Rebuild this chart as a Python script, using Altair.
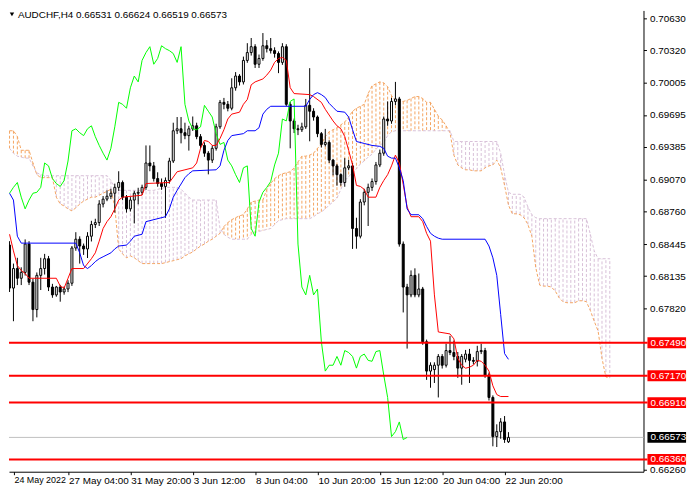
import json
import altair as alt
import pandas as pd

FONT = "Liberation Sans"
SYMBOL = "AUDCHF,H4"
PT = 100000.0  # prices below are in points (1e-5)

OPEN_PTS = [68435, 68019, 68208, 68114, 68171, 68445, 68076, 67811, 68142, 68208,
            68303, 68029, 67953, 68029, 67981, 68010, 68066, 68407, 68492, 68426,
            68398, 68521, 68634, 68653, 68833, 68880, 68908, 68937, 68994, 69041,
            68899, 68786, 68871, 68937, 68946, 68994, 69230, 69202, 69079, 69031,
            69003, 69060, 69249, 69542, 69561, 69523, 69495, 69561, 69590, 69485,
            69400, 69325, 69258, 69372, 69580, 69817, 69798, 69760, 69958, 70072,
            70015, 70223, 70299, 70356, 70186, 70242, 70365, 70337, 70318, 70290,
            70204, 70356, 69798, 69637, 69561, 69552, 69580, 69788, 69731, 69675,
            69514, 69410, 69429, 69258, 69202, 69117, 69041, 69183, 69202, 68596,
            68521, 68852, 68946, 68994, 69050, 69211, 69325, 69656, 69637, 69826,
            69850, 68445, 68029, 67953, 68142, 67953, 68010, 67499, 67215, 67230,
            67272, 67357, 67272, 67414, 67395, 67357, 67244, 67330, 67380, 67319,
            67310, 67404, 67414, 67177, 66960, 66581, 66629, 66723, 66531]
HIGH_PTS = [68473, 68256, 68312, 68220, 68490, 68473, 68110, 68170, 68312, 68350,
            68330, 68060, 68040, 68050, 68035, 68095, 68426, 68560, 68520, 68450,
            68560, 68670, 68690, 68870, 68910, 68965, 68980, 69030, 69150, 69060,
            68920, 68900, 68960, 68990, 69020, 69400, 69400, 69240, 69140, 69080,
            69090, 69280, 69620, 69675, 69675, 69620, 69590, 69680, 69620, 69510,
            69430, 69345, 69400, 69610, 69840, 69860, 69830, 70050, 70110, 70090,
            70260, 70390, 70440, 70380, 70280, 70488, 70420, 70440, 70350, 70310,
            70390, 70380, 69820, 69660, 69600, 69620, 69850, 70148, 69760, 69690,
            69530, 69560, 69450, 69270, 69220, 69130, 69277, 69260, 69230, 68700,
            68880, 68980, 69030, 69080, 69240, 69360, 69680, 69826, 69860, 70015,
            69870, 68470, 68060, 68190, 68210, 68160, 68030, 67520, 67300, 67300,
            67380, 67380, 67480, 67556, 67510, 67400, 67380, 67420, 67430, 67350,
            67460, 67480, 67440, 67200, 66980, 66700, 66760, 66780, 66624]
LOW_PTS = [67981, 67698, 68048, 68048, 68140, 68048, 67698, 67735, 68000, 68150,
           67990, 67925, 67935, 67887, 67955, 67980, 68040, 68380, 68256, 68340,
           68310, 68470, 68600, 68620, 68800, 68860, 68880, 68750, 68960, 68870,
           68750, 68760, 68645, 68830, 68920, 68970, 69150, 69050, 69000, 68970,
           68700, 69030, 69230, 69510, 69420, 69460, 69350, 69540, 69460, 69370,
           69290, 69120, 69230, 69350, 69560, 69750, 69730, 69740, 69930, 69980,
           69990, 70200, 70270, 70150, 70150, 70220, 70300, 70290, 70250, 70100,
           70180, 69780, 69372, 69520, 69500, 69530, 69560, 69440, 69640, 69480,
           69380, 69390, 69230, 69110, 69010, 69010, 69000, 69160, 68398, 68400,
           68500, 68820, 68620, 68960, 69020, 69190, 69300, 69590, 69610, 69790,
           68420, 67783, 67433, 67930, 67930, 67930, 67470, 67130, 67054, 67100,
           66960, 67240, 67250, 67370, 67320, 67150, 67083, 67300, 67100, 67280,
           67260, 67380, 67150, 66930, 66487, 66480, 66560, 66520, 66519]
CLOSE_PTS = [68019, 68208, 68114, 68171, 68445, 68076, 67811, 68142, 68208, 68303,
             68029, 67953, 68029, 67981, 68010, 68066, 68407, 68492, 68426, 68398,
             68521, 68634, 68653, 68833, 68880, 68908, 68937, 68994, 69041, 68899,
             68786, 68871, 68937, 68946, 68994, 69230, 69202, 69079, 69031, 69003,
             69060, 69249, 69542, 69561, 69523, 69495, 69561, 69590, 69485, 69400,
             69325, 69258, 69372, 69580, 69817, 69798, 69760, 69958, 70072, 70015,
             70223, 70299, 70356, 70186, 70242, 70365, 70337, 70318, 70290, 70204,
             70356, 69798, 69637, 69561, 69552, 69580, 69788, 69731, 69675, 69514,
             69410, 69429, 69258, 69202, 69117, 69041, 69183, 69202, 68596, 68521,
             68852, 68946, 68994, 69050, 69211, 69325, 69656, 69637, 69826, 69850,
             68445, 68029, 67953, 68142, 67953, 68010, 67499, 67215, 67272, 67272,
             67357, 67272, 67414, 67395, 67357, 67244, 67357, 67380, 67319, 67310,
             67404, 67414, 67177, 66960, 66581, 66629, 66723, 66553, 66573]

SENKOU_A_PTS = [69542, 69542, 69486, 69353, 69353, 69353, 69230, 69117, 69088, 69088,
                69088, 69088, 68899, 68833, 68814, 68785, 68767, 68795, 68833, 68861,
                68880, 68899, 68899, 68918, 68937, 68956, 68975, 68804, 68398, 68350,
                68312, 68331, 68312, 68284, 68256, 68256, 68256, 68256, 68256, 68256,
                68265, 68275, 68284, 68294, 68303, 68331, 68350, 68369, 68398, 68426,
                68445, 68473, 68492, 68521, 68549, 68615, 68653, 68681, 68700, 68719,
                68729, 68785, 68852, 68861, 68871, 68871, 68975, 69031, 69079, 69107,
                69126, 69135, 69145, 69183, 69240, 69296, 69296, 69306, 69325, 69372,
                69410, 69486, 69533, 69552, 69571, 69599, 69627, 69675, 69731, 69760,
                69779, 69798, 69902, 69977, 69996, 70015, 70006, 69968, 69883, 69836,
                69826, 69826, 69836, 69854, 69873, 69873, 69854, 69817, 69817, 69750,
                69684, 69646, 69590, 69523, 69306, 69211, 69183, 69164, 69164, 69154,
                69154, 69154, 69183, 69202, 69211, 69258, 69183, 69013, 68823, 68738,
                68738, 68729, 68700, 68634, 68521, 68218, 68048, 68038, 68038, 68029,
                67991, 67925, 67887, 67877, 67877, 67877, 67896, 67896, 67887, 67802,
                67698, 67603, 67338, 67158, 67149]
SENKOU_B_PTS = [69372, 69325, 69296, 69287, 69277, 69277, 69202, 69135, 69117, 69107,
                69107, 69107, 69107, 69107, 69107, 69107, 69107, 69107, 69107, 69107,
                69107, 69107, 69107, 69107, 69107, 69107, 69060, 68994, 68965, 68965,
                68965, 68965, 68965, 68965, 68965, 68965, 68965, 68965, 68975, 68984,
                68994, 68994, 68994, 68994, 68975, 68937, 68899, 68871, 68871, 68871,
                68871, 68871, 68871, 68871, 68596, 68540, 68511, 68492, 68492, 68492,
                68492, 68492, 68540, 68558, 68568, 68577, 68587, 68596, 68634, 68672,
                68681, 68691, 68691, 68691, 68691, 68691, 68691, 68691, 68710, 68738,
                68757, 68785, 68823, 68852, 68890, 68975, 69060, 69098, 69135, 69173,
                69221, 69249, 69287, 69315, 69363, 69400, 69429, 69495, 69533, 69542,
                69542, 69542, 69542, 69542, 69542, 69542, 69542, 69542, 69542, 69542,
                69542, 69542, 69542, 69542, 69438, 69438, 69438, 69438, 69438, 69438,
                69438, 69438, 69438, 69438, 69438, 69438, 69325, 69117, 68946, 68927,
                68927, 68927, 68899, 68804, 68729, 68700, 68691, 68691, 68691, 68691,
                68691, 68691, 68691, 68691, 68691, 68691, 68691, 68691, 68691, 68540,
                68379, 68303, 68303, 68303, 68303]

TENKAN_BAR = [0, 1, 2, 3, 4, 5, 12, 13, 14, 15, 16, 19, 21, 22, 23, 24, 25, 26, 27, 28, 29, 34, 35,
              41, 43, 45, 47, 48, 49, 50, 51, 52, 53, 54, 55, 56, 57, 59, 60, 61, 62, 63, 65, 66,
              67, 68, 69, 70, 71, 72, 73, 77, 78, 80, 81, 83, 84, 85, 86, 87, 88, 89, 90, 91, 92,
              94, 95, 96, 97, 98, 99, 100, 101, 102, 103, 105, 106, 107, 108, 109, 110, 113, 114,
              115, 116, 117, 118, 119, 120, 121, 122, 123, 124, 125, 126, 128]
TENKAN_PTS = [68540, 68379, 68237, 68189, 68161, 68114, 68114, 68038, 68019, 68114, 68208,
              68208, 68303, 68360, 68473, 68596, 68662, 68710, 68785, 68871, 68899, 68918,
              69031, 69041, 69145, 69164, 69183, 69230, 69372, 69448, 69438, 69400, 69400,
              69467, 69552, 69656, 69703, 69722, 69798, 69845, 69987, 70015, 70044, 70081,
              70129, 70204, 70242, 70252, 70223, 69959, 69902, 69892, 69873, 69817, 69750,
              69637, 69590, 69561, 69486, 69353, 69211, 69013, 69003, 68975, 68899, 68899,
              68994, 69060, 69117, 69202, 69306, 69230, 69022, 68804, 68710, 68710, 68662,
              68549, 68473, 67953, 67594, 67575, 67527, 67338, 67272, 67243, 67253, 67272,
              67319, 67310, 67272, 67215, 67073, 66988, 66969, 66969]
KIJUN_BAR = [0, 1, 2, 3, 17, 18, 19, 20, 21, 22, 23, 24, 25, 26, 27, 28, 30, 31, 32, 34, 35, 40,
             41, 42, 43, 45, 46, 47, 53, 54, 55, 56, 57, 60, 61, 63, 64, 65, 66, 67, 76, 77, 78,
             79, 80, 81, 82, 83, 84, 86, 87, 88, 89, 91, 93, 95, 96, 97, 98, 99, 100, 101, 102,
             103, 105, 106, 107, 108, 109, 110, 111, 122, 123, 124, 125, 126, 127, 128]
KIJUN_PTS = [68937, 68871, 68521, 68454, 68454, 68360, 68237, 68208, 68237, 68275, 68303,
             68322, 68341, 68360, 68398, 68426, 68435, 68473, 68521, 68540, 68662, 68710,
             68785, 68899, 68965, 69088, 69126, 69154, 69164, 69202, 69353, 69448, 69495,
             69514, 69542, 69542, 69571, 69703, 69750, 69779, 69779, 69845, 69892, 69911,
             69892, 69864, 69807, 69769, 69731, 69722, 69675, 69552, 69438, 69419, 69400,
             69391, 69372, 69296, 69277, 69277, 69183, 69060, 68785, 68729, 68729, 68691,
             68615, 68549, 68521, 68502, 68492, 68492, 68426, 68312, 68142, 67764, 67385,
             67329]
CHIKOU_SHIFT = 26

LEVELS = [0.67490, 0.67170, 0.66910, 0.66360]
Y_TICKS = [0.70630, 0.70320, 0.70005, 0.69695, 0.69385, 0.69070, 0.68760, 0.68445,
           0.68135, 0.67820, 0.66260]
X_TICKS = [1.125, 15.125, 31.125, 47.125, 63.125, 79.125, 95.125, 111.125, 127.125]
X_LABELS = ["24 May 2022", "27 May 04:00", "31 May 20:00", "3 Jun 12:00", "8 Jun 04:00",
            "10 Jun 20:00", "15 Jun 12:00", "20 Jun 04:00", "22 Jun 20:00"]

SANDY = "#F4A460"
THISTLE = "#D8BFD8"
PLOT_W = 641
PLOT_H = 466

n = len(CLOSE_PTS)
bars = pd.DataFrame({
    "bar": list(range(n)),
    "open": [v / PT for v in OPEN_PTS],
    "high": [v / PT for v in HIGH_PTS],
    "low": [v / PT for v in LOW_PTS],
    "close": [v / PT for v in CLOSE_PTS],
})
cloud = pd.DataFrame({
    "bar": list(range(len(SENKOU_A_PTS))),
    "a": [v / PT for v in SENKOU_A_PTS],
    "b": [v / PT for v in SENKOU_B_PTS],
})
tenkan = pd.DataFrame({"bar": TENKAN_BAR, "v": [v / PT for v in TENKAN_PTS]})
kijun = pd.DataFrame({"bar": KIJUN_BAR, "v": [v / PT for v in KIJUN_PTS]})
chikou = pd.DataFrame({"bar": [i - CHIKOU_SHIFT for i in range(CHIKOU_SHIFT, n)],
                       "v": [v / PT for v in CLOSE_PTS[CHIKOU_SHIFT:]]})
levels = pd.DataFrame({"price": LEVELS})
last = pd.DataFrame({"price": [CLOSE_PTS[-1] / PT]})
title_txt = "%s  %.5f %.5f %.5f %.5f" % (SYMBOL, OPEN_PTS[-1] / PT, HIGH_PTS[-1] / PT,
                                          LOW_PTS[-1] / PT, CLOSE_PTS[-1] / PT)
title_df = pd.DataFrame({"t": [title_txt]})

xs = alt.Scale(domain=[1.125, 1.125 + PLOT_W / 4.0], nice=False, zero=False)
ys = alt.Scale(domain=[0.66241, 0.70707], nice=False, zero=False)
label_expr = json.dumps(X_LABELS) + "[round((datum.value - 15.125) / 16) + 1]"
xaxis = alt.Axis(values=X_TICKS, labelExpr=label_expr, labelAlign="left", labelFont=FONT,
                 labelFontSize={"condition": {"test": "datum.value < 5", "value": 9},
                                "value": 10},
                 labelColor="black", tickColor="black", tickSize=3,
                 domainColor="black", labelPadding=1, labelOverlap=False, labelFlush=False,
                 grid=False, title=None)
yaxis = alt.Axis(orient="right", values=Y_TICKS, format=".5f", labelFont=FONT,
                 labelFontSize=10, labelColor="black", tickColor="black", tickSize=3,
                 domainColor="black", labelPadding=3, labelOverlap=False, grid=False,
                 title=None)


def X(f):
    return alt.X(f, type="quantitative", scale=xs, axis=xaxis)


def Y(f):
    return alt.Y(f, type="quantitative", scale=ys, axis=yaxis)


base_bars = alt.Chart(bars)
cur_line = alt.Chart(last).mark_rule(color="#C0C0C0", strokeWidth=1).encode(
    y=Y("price"), x=alt.value(0), x2=alt.value(PLOT_W))

hatch = alt.Chart(cloud).mark_rule(strokeDash=[3, 2], strokeWidth=1, clip=True).encode(
    x=X("bar"), y=Y("a"), y2="b",
    color=alt.condition("datum.a > datum.b", alt.value(SANDY), alt.value(THISTLE)))
span_a = alt.Chart(cloud).mark_line(color=SANDY, strokeDash=[3, 2], strokeWidth=1,
                                    clip=True).encode(x=X("bar"), y=Y("a"))
span_b = alt.Chart(cloud).mark_line(color=THISTLE, strokeDash=[3, 2], strokeWidth=1,
                                    clip=True).encode(x=X("bar"), y=Y("b"))

wicks = base_bars.mark_rule(color="black", strokeWidth=1, clip=True).encode(
    x=X("bar"), y=Y("low"), y2="high")
bodies = base_bars.mark_bar(size=2, stroke="black", strokeWidth=1, clip=True).encode(
    x=X("bar"), y=Y("open"), y2="close",
    color=alt.condition("datum.close >= datum.open", alt.value("white"), alt.value("black")))

chikou_l = alt.Chart(chikou).mark_line(color="#00FF00", strokeWidth=1, clip=True).encode(
    x=X("bar"), y=Y("v"))
tenkan_l = alt.Chart(tenkan).mark_line(color="#FF0000", strokeWidth=1, clip=True).encode(
    x=X("bar"), y=Y("v"))
kijun_l = alt.Chart(kijun).mark_line(color="#0000FF", strokeWidth=1, clip=True).encode(
    x=X("bar"), y=Y("v"))

BOX_X0 = PLOT_W + 4
BOX_X1 = PLOT_W + 43
lvl_lines = alt.Chart(levels).mark_rule(color="#FF0000", strokeWidth=2).encode(
    y=Y("price"), x=alt.value(0), x2=alt.value(BOX_X0))
lvl_box = alt.Chart(levels).mark_rule(color="#FF0000", strokeWidth=11, strokeCap="butt").encode(
    y=Y("price"), x=alt.value(BOX_X0), x2=alt.value(BOX_X1))
lvl_txt = alt.Chart(levels).mark_text(align="left", baseline="middle", color="white",
                                      font=FONT, fontSize=10).encode(
    y=Y("price"), x=alt.value(BOX_X0 + 3), text=alt.Text("price:Q", format=".5f"))
cur_box = alt.Chart(last).mark_rule(color="black", strokeWidth=11, strokeCap="butt").encode(
    y=Y("price"), x=alt.value(BOX_X0), x2=alt.value(BOX_X1))
cur_txt = alt.Chart(last).mark_text(align="left", baseline="middle", color="white",
                                    font=FONT, fontSize=10).encode(
    y=Y("price"), x=alt.value(BOX_X0 + 3), text=alt.Text("price:Q", format=".5f"))

title_mark = alt.Chart(title_df).mark_text(align="left", baseline="top", font=FONT,
                                           fontSize=10, color="black").encode(
    x=alt.value(9), y=alt.value(0), text="t:N")
tri = alt.Chart(title_df).mark_point(shape="triangle-down", filled=True, color="black",
                                     size=20, opacity=1).encode(x=alt.value(3), y=alt.value(4))

chart = alt.layer(
    cur_line, hatch, span_a, span_b, wicks, bodies, chikou_l, tenkan_l, kijun_l,
    lvl_lines, lvl_box, lvl_txt, cur_box, cur_txt, title_mark, tri
).properties(
    width=PLOT_W, height=PLOT_H, padding={"left": 0, "top": 0, "right": 0, "bottom": 0},
    background="white"
).configure_view(stroke=None)

chart.save("out.html", embed_options={"renderer": "svg", "actions": False})
